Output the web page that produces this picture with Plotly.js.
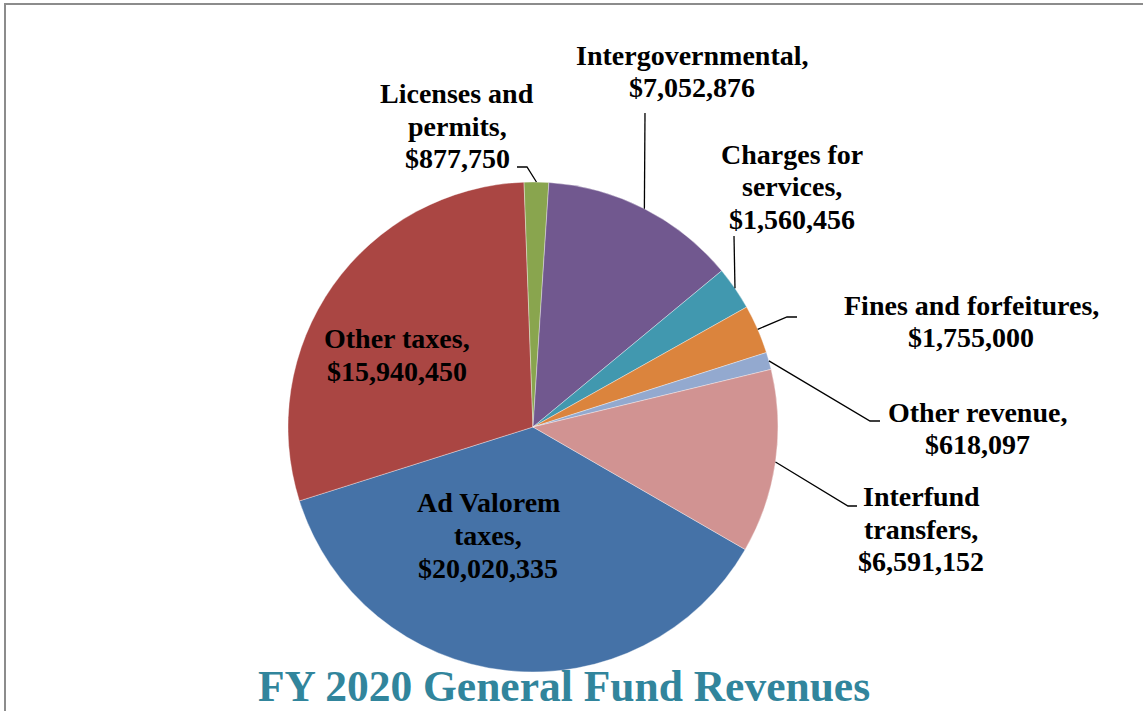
<!DOCTYPE html>
<html>
<head>
<meta charset="utf-8">
<script src="https://cdn.plot.ly/plotly-3.0.1.min.js"></script>
<style>html,body{margin:0;padding:0;background:#fff;}#chart{width:1143px;height:711px;}</style>
</head>
<body>
<div id="chart"></div>
<script>
// ---- data ----
var categories = ["Ad Valorem taxes", "Other taxes", "Licenses and permits", "Intergovernmental",
                  "Charges for services", "Fines and forfeitures", "Other revenue", "Interfund transfers"];
var values = [20020335, 15940450, 877750, 7052876, 1560456, 1755000, 618097, 6591152];
var labelLines = [
  ["Ad Valorem", "taxes,", "$20,020,335"],
  ["Other taxes,", "$15,940,450"],
  ["Licenses and", "permits,", "$877,750"],
  ["Intergovernmental,", "$7,052,876"],
  ["Charges for", "services,", "$1,560,456"],
  ["Fines and forfeitures,", "$1,755,000"],
  ["Other revenue,", "$618,097"],
  ["Interfund", "transfers,", "$6,591,152"]
];
var titleText = "FY 2020 General Fund Revenues";

// ---- styles / layout positions (pixels) ----
var colors = ["#4572A7", "#AA4643", "#89A54E", "#71588F", "#4198AF", "#DB843D", "#93A9CF", "#D19392"];
var W = 1143, H = 711;
var CX = 533, CY = 427, R = 245, ROT = 120;
var LINE_GAP = 32.5;
// label block: center x, y of first line center
var labelPos = [
  [488, 503], [397, 339], [457, 93.5], [692, 55],
  [792, 154.5], [971, 305], [977, 412], [921, 496.5]
];
// leader line start points (label side) for outside labels; null = no leader
var leaderPts = [
  null, null,
  [[517, 167], [527, 167]],
  [[645, 113]],
  [[734, 236]],
  [[797, 317], [787, 317]],
  [[880, 421], [870, 421]],
  [[857, 506], [848, 506]]
];

function px(x) { return x / W; }
function py(y) { return 1 - y / H; }

var total = values.reduce(function (a, b) { return a + b; }, 0);

var annotations = [];
labelLines.forEach(function (lines, i) {
  lines.forEach(function (t, j) {
    annotations.push({
      text: t, showarrow: false, xref: "paper", yref: "paper",
      x: px(labelPos[i][0]), y: py(labelPos[i][1] + j * LINE_GAP),
      xanchor: "center", yanchor: "middle",
      font: { family: "Liberation Serif, 'Times New Roman', serif", size: 28, color: "#000000", weight: "bold" }
    });
  });
});

var shapes = [];
var cum = 0;
values.forEach(function (v, i) {
  var mid = ROT + (cum + v / 2) / total * 360;
  cum += v;
  if (!leaderPts[i]) return;
  var a = mid * Math.PI / 180;
  var ex = CX + R * Math.sin(a), ey = CY - R * Math.cos(a);
  var pts = leaderPts[i].concat([[ex, ey]]);
  var d = pts.map(function (p, k) { return (k ? "L" : "M") + px(p[0]) + "," + py(p[1]); }).join(" ");
  shapes.push({ type: "path", xref: "paper", yref: "paper", path: d,
    line: { color: "#000000", width: 1.3 }, layer: "above" });
});
// outer frame
shapes.push({ type: "rect", xref: "paper", yref: "paper",
  x0: px(5), x1: px(1160), y0: py(730), y1: py(4),
  line: { color: "#8c8c8c", width: 2 }, layer: "below" });

var trace = {
  type: "pie",
  labels: categories,
  values: values,
  sort: false,
  direction: "clockwise",
  rotation: ROT,
  textinfo: "none",
  hoverinfo: "label+value",
  marker: { colors: colors, line: { color: "rgba(255,255,255,0.6)", width: 0.6 } },
  domain: { x: [px(CX - R), px(CX + R)], y: [py(CY + R), py(CY - R)] },
  showlegend: false
};

var layout = {
  width: W, height: H,
  margin: { l: 0, r: 0, t: 0, b: 0 },
  paper_bgcolor: "#ffffff",
  showlegend: false,
  title: {
    text: titleText,
    font: { family: "Liberation Serif, 'Times New Roman', serif", size: 43.5, color: "#31859C", weight: "bold" },
    x: px(564), xanchor: "center", xref: "paper",
    y: 1 - 686 / H, yanchor: "middle", yref: "container"
  },
  annotations: annotations,
  shapes: shapes
};

Plotly.newPlot("chart", [trace], layout, { displayModeBar: false, staticPlot: true });
</script>
</body>
</html>
